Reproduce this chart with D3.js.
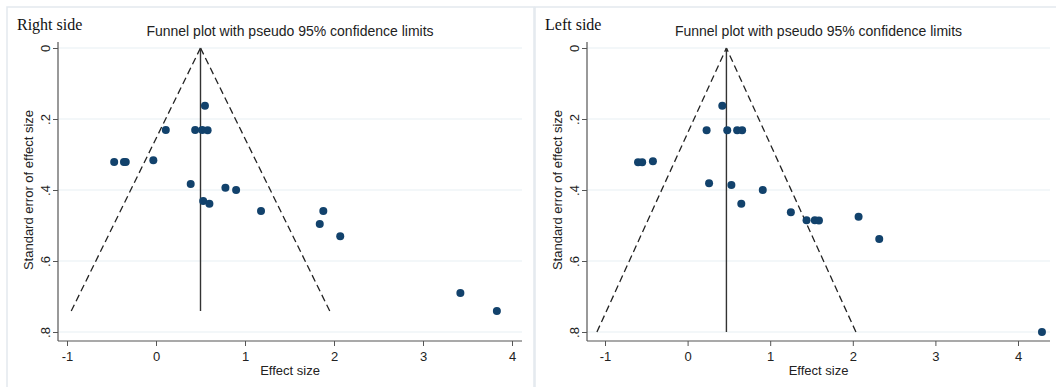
<!DOCTYPE html>
<html>
<head>
<meta charset="utf-8">
<script src="https://cdn.jsdelivr.net/npm/d3@7"></script>
<style>
  body { margin: 0; background: #fff; }
  text { font-family: Arial, "Liberation Sans", sans-serif; fill: #222; }
</style>
</head>
<body>
<script>
// effect size / standard error
var rightEffect = [0.55, 0.11, 0.44, 0.52, 0.58, -0.47, -0.36, -0.34, -0.03, 0.39, 0.78, 0.90, 0.53, 0.60, 1.18, 1.88, 1.84, 2.07, 3.42, 3.83]
var rightSE     = [0.163, 0.231, 0.231, 0.231, 0.232, 0.321, 0.321, 0.321, 0.316, 0.383, 0.394, 0.40, 0.431, 0.439, 0.459, 0.459, 0.496, 0.530, 0.69, 0.741]
var rightPooled = 0.5, rightMaxSE = 0.741

var leftEffect = [0.42, 0.23, 0.48, 0.60, 0.66, -0.60, -0.55, -0.42, 0.26, 0.53, 0.91, 0.65, 1.25, 1.44, 1.54, 1.59, 2.07, 2.32, 4.29]
var leftSE     = [0.163, 0.232, 0.232, 0.232, 0.232, 0.322, 0.322, 0.319, 0.381, 0.386, 0.40, 0.439, 0.463, 0.485, 0.485, 0.486, 0.475, 0.538, 0.80]
var leftPooled = 0.47, leftMaxSE = 0.80

var xTicks = [-1, 0, 1, 2, 3, 4]
var xTickLabels = ['-1', '0', '1', '2', '3', '4']
var yTicks = [0, 0.2, 0.4, 0.6, 0.8]
var yTickLabels = ['0', '.2', '.4', '.6', '.8']

var width = 1056, height = 387
var svg = d3.select('body').append('svg')
  .attr('width', width)
  .attr('height', height);

var panels = [
  { name: 'Right side', left: 7, right: 534, axisX: 58, axisEnd: 522, xr: [67, 512],
    effect: rightEffect, se: rightSE, pooled: rightPooled, maxSE: rightMaxSE },
  { name: 'Left side', left: 535, right: 1070, axisX: 587, axisEnd: 1050, xr: [605, 1018],
    effect: leftEffect, se: leftSE, pooled: leftPooled, maxSE: leftMaxSE }
]

panels.forEach(function(p) {
  var g = svg.append('g');

  // panel frame
  g.append('rect')
    .attr('x', p.left).attr('y', 7)
    .attr('width', p.right - p.left).attr('height', 400)
    .attr('fill', 'none').attr('stroke', '#e3e9ee').attr('stroke-width', 1.5);

  var x = d3.scaleLinear().domain([-1, 4]).range(p.xr);
  var y = d3.scaleLinear().domain([0, 0.8]).range([48, 332]);
  var axisY = 341, axisTop = 42;

  // grid
  g.selectAll('.grid').data(yTicks).enter().append('line')
    .attr('x1', p.axisX).attr('x2', p.axisEnd)
    .attr('y1', d => y(d)).attr('y2', d => y(d))
    .attr('stroke', '#e8eff4').attr('stroke-width', 1.2);

  // y axis
  var ya = g.append('g').attr('transform', 'translate(' + p.axisX + ',0)')
    .call(d3.axisLeft(y).tickValues(yTicks).tickFormat((d, i) => yTickLabels[i]).tickSize(5).tickSizeOuter(0));
  ya.select('.domain').remove();
  ya.selectAll('line').attr('stroke', '#555');
  ya.selectAll('text')
    .attr('x', null).attr('dy', null)
    .attr('text-anchor', 'middle')
    .attr('transform', 'translate(-8,0) rotate(-90)')
    .style('font-size', '13px').style('fill', '#222');
  g.append('line').attr('x1', p.axisX).attr('x2', p.axisX)
    .attr('y1', axisTop).attr('y2', axisY).attr('stroke', '#555').attr('stroke-width', 1.2);

  // x axis
  var xa = g.append('g').attr('transform', 'translate(0,' + axisY + ')')
    .call(d3.axisBottom(x).tickValues(xTicks).tickFormat((d, i) => xTickLabels[i]).tickSize(5).tickSizeOuter(0));
  xa.select('.domain').remove();
  xa.selectAll('line').attr('stroke', '#555');
  xa.selectAll('text').attr('dy', null).attr('y', 20)
    .style('font-size', '13px').style('fill', '#222');
  g.append('line').attr('x1', p.axisX).attr('x2', p.axisEnd)
    .attr('y1', axisY).attr('y2', axisY).attr('stroke', '#555').attr('stroke-width', 1.2);

  // labels
  var mid = (p.axisX + p.axisEnd) / 2;
  g.append('text').attr('x', mid).attr('y', 375).attr('text-anchor', 'middle')
    .style('font-size', '13px').text('Effect size');
  g.append('text')
    .attr('transform', 'translate(' + (p.axisX - 25) + ',' + y(0.4) + ') rotate(-90)')
    .attr('text-anchor', 'middle').style('font-size', '13px')
    .text('Standard error of effect size');
  g.append('text').attr('x', mid).attr('y', 36).attr('text-anchor', 'middle')
    .style('font-size', '14px').text('Funnel plot with pseudo 95% confidence limits');
  g.append('text').attr('x', p.left + 10).attr('y', 30)
    .style('font-family', '"Liberation Serif", "Times New Roman", serif')
    .style('font-size', '16px').style('fill', '#111').text(p.name);

  // funnel: pseudo 95% limits
  var funnel = d3.line().x(d => x(d[0])).y(d => y(d[1]));
  [-1.96, 1.96].forEach(function(z) {
    g.append('path')
      .attr('d', funnel([[p.pooled + z * p.maxSE, p.maxSE], [p.pooled, 0]]))
      .attr('fill', 'none').attr('stroke', '#222').attr('stroke-width', 1.3)
      .attr('stroke-dasharray', '7,4');
  });
  g.append('path')
    .attr('d', funnel([[p.pooled, 0], [p.pooled, p.maxSE]]))
    .attr('stroke', '#333').attr('stroke-width', 1.4);

  // studies
  g.selectAll('circle').data(p.effect).enter().append('circle')
    .attr('cx', d => x(d))
    .attr('cy', (d, i) => y(p.se[i]))
    .attr('r', 4)
    .attr('fill', '#12426c');
});
</script>
</body>
</html>
